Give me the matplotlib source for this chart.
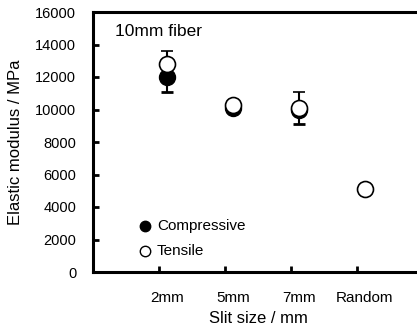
import matplotlib
matplotlib.use('Agg')
import matplotlib.pyplot as plt

plt.rcParams['font.family'] = ['Liberation Sans', 'DejaVu Sans']

# 试料：切缝尺寸
slits = ['2mm', '5mm', '7mm', 'Random']
x = [1, 2, 3, 4]

# 压缩弹性模量（Random 没有数据）
comp = [12000, 10100, 10000]
comp_err = [900, 150, 900]
# 拉伸弹性模量
tens = [12800, 10280, 10100, 5100]
tens_err = [800, 0, 1000, 0]

fig = plt.figure(figsize=(4.17, 3.31), dpi=100)
ax = fig.add_axes([93/417, 59/331, 330/417, 260/331])

# 压缩：黑色实心圆，误差线只画下侧
ax.errorbar(x[:3], comp, yerr=[comp_err, [0, 0, 0]], fmt='o', color='black',
            markersize=11.5, capsize=4, capthick=2, elinewidth=1.5, zorder=3)
# 拉伸：白色空心圆，误差线只画上侧
ax.errorbar(x, tens, yerr=[[0, 0, 0, 0], tens_err], fmt='o', color='black',
            markerfacecolor='white', markeredgewidth=1.2, markersize=11.5,
            capsize=4, capthick=2, elinewidth=1.5, zorder=4)

ax.set_xlim(-0.12, 4.88)
ax.set_ylim(0, 16000)
# 刻度线稍微偏左，标签在数据点正下方
ax.set_xticks(x)
ax.set_xticklabels(slits)
ax.set_xticks([i - 0.12 for i in x], minor=True)
ax.tick_params(axis='x', which='major', length=0, pad=14, labelsize=11)
ax.tick_params(axis='x', which='minor', direction='in', width=2, length=4)
ax.set_yticks(range(0, 16001, 2000))
ax.tick_params(axis='y', direction='in', width=2, length=4, pad=12, labelsize=10.5)
for s in ['left', 'bottom', 'top']:
    ax.spines[s].set_linewidth(2.2)
ax.spines['right'].set_visible(False)

ax.set_xlabel('Slit size / mm', fontsize=12, labelpad=4)
ax.set_ylabel('Elastic modulus / MPa', fontsize=12, labelpad=9)
ax.text(0.213, 14770, '10mm fiber', fontsize=12.5, va='center')

# 图例
ax.plot(0.668, 2830, 'o', color='black', markersize=7.5)
ax.plot(0.668, 1290, 'o', color='black', markerfacecolor='white', markersize=7.5, markeredgewidth=1)
ax.text(0.85, 2830, 'Compressive', fontsize=11, va='center')
ax.text(0.85, 1290, 'Tensile', fontsize=11, va='center')

fig.savefig('out.png', dpi=100)
